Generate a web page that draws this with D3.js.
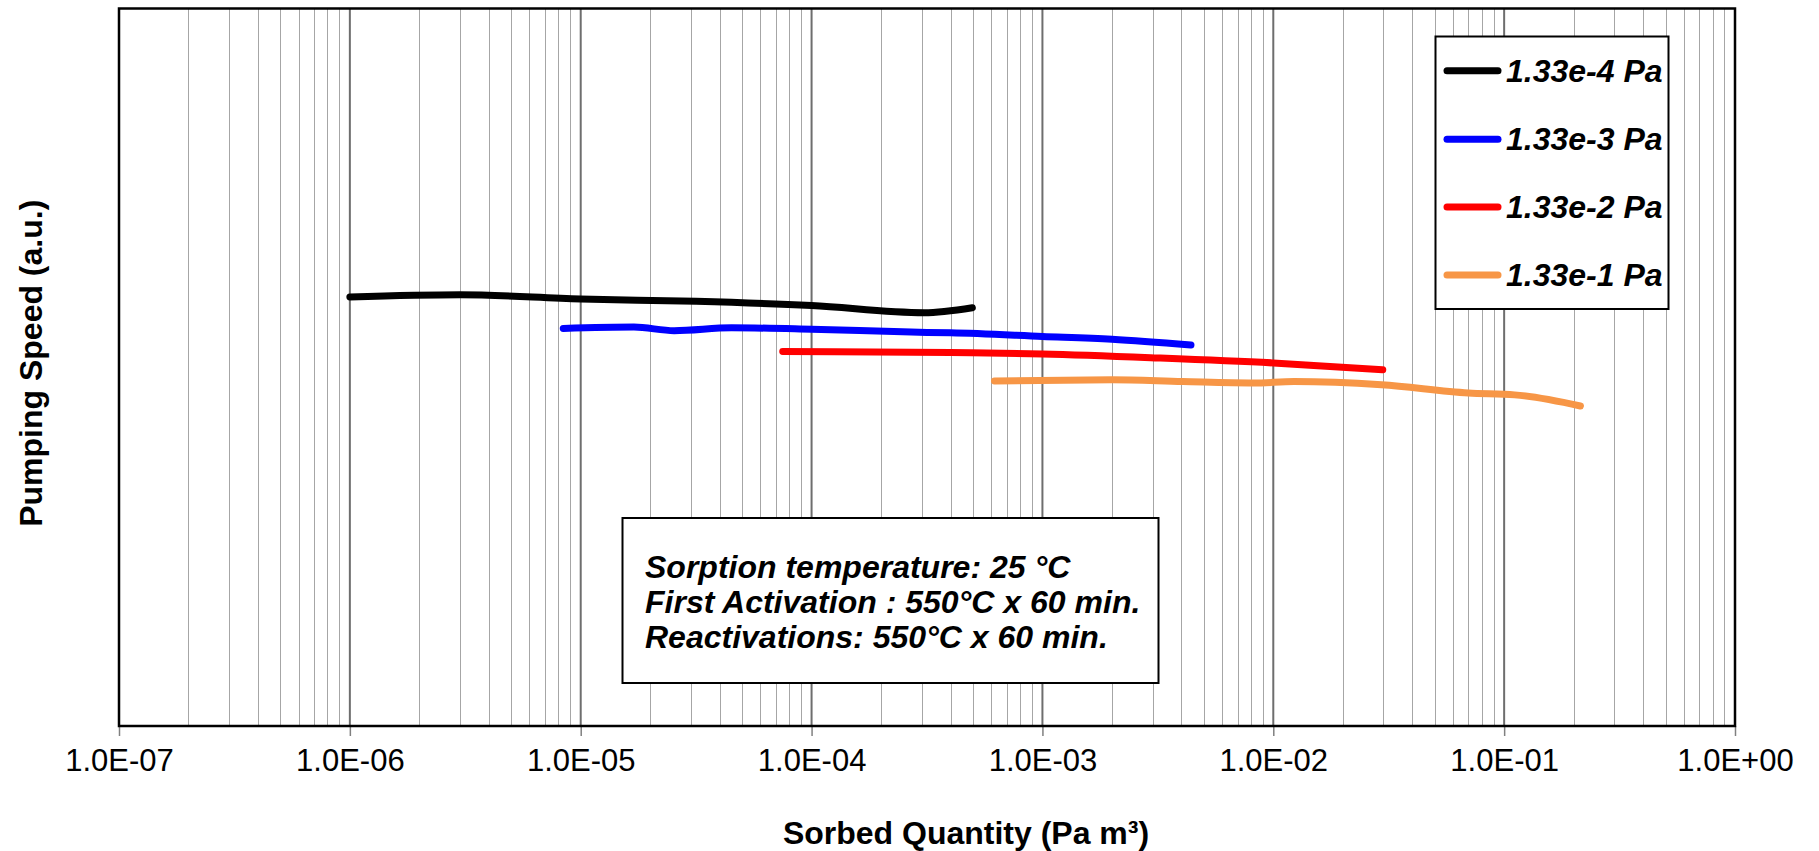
<!DOCTYPE html>
<html><head><meta charset="utf-8">
<script src="https://cdn.jsdelivr.net/npm/d3@7"></script>
<style>html,body{margin:0;padding:0;background:#fff;}svg{display:block;font-family:"Liberation Sans",Arial,sans-serif;}</style>
</head><body>
<svg id="chart" width="1819" height="851"></svg>
<script>
// ---- data (x: sorbed quantity Pa m3, y: pumping speed in arbitrary units 0..100) ----
const seriesNames = ["1.33e-4 Pa", "1.33e-3 Pa", "1.33e-2 Pa", "1.33e-1 Pa"];
const seriesColors = ["#000000", "#0000FF", "#FF0000", "#F79646"];
const s1x = [1.0e-6, 3.0e-6, 1.0e-5, 3.16e-5, 1.0e-4, 3.07e-4, 4.97e-4];
const s1y = [59.8, 60.1, 59.5, 59.2, 58.6, 57.6, 58.3];
const s2x = [8.4e-6, 1.7e-5, 2.54e-5, 4.5e-5, 1.0e-4, 2.7e-4, 4.0e-4, 1.0e-3, 2.0e-3, 4.4e-3];
const s2y = [55.4, 55.6, 55.1, 55.5, 55.3, 54.9, 54.8, 54.3, 53.9, 53.1];
const s3x = [7.5e-5, 4.0e-4, 1.0e-3, 3.16e-3, 1.0e-2, 2.98e-2];
const s3y = [52.2, 52.05, 51.85, 51.3, 50.6, 49.65];
const s4x = [6.2e-4, 2.0e-3, 4.05e-3, 8.2e-3, 1.23e-2, 2.94e-2, 7.0e-2, 0.111, 0.214];
const s4y = [48.1, 48.25, 48.0, 47.8, 48.0, 47.55, 46.4, 46.15, 44.6];
const xTickValues = [1e-7, 1e-6, 1e-5, 1e-4, 1e-3, 1e-2, 1e-1, 1e0];
const xTickLabels = ["1.0E-07", "1.0E-06", "1.0E-05", "1.0E-04", "1.0E-03", "1.0E-02", "1.0E-01", "1.0E+00"];
const xTitle = "Sorbed Quantity (Pa m³)";
const yTitle = "Pumping Speed (a.u.)";
const noteLines = ["Sorption temperature: 25 °C", "First Activation : 550°C x 60 min.", "Reactivations: 550°C x 60 min."];

const seriesX = [s1x, s2x, s3x, s4x];
const seriesY = [s1y, s2y, s3y, s4y];

// ---- layout ----
const L = 119, R = 1735, T = 8.5, B = 726;
const svg = d3.select("#chart");
const x = d3.scaleLog().domain([1e-7, 1]).range([L, R]);
const y = d3.scaleLinear().domain([0, 100]).range([B, T]);

// grid: minor lines
const minor = [];
for (let e = -7; e < 0; e++) for (let k = 2; k <= 9; k++) minor.push(k * Math.pow(10, e));
svg.append("g").selectAll("line").data(minor).join("line")
  .attr("x1", d => Math.round(x(d)) + 0.5).attr("x2", d => Math.round(x(d)) + 0.5)
  .attr("y1", T).attr("y2", B)
  .attr("stroke", "#a6a6a6").attr("stroke-width", 1);
// grid: major lines
svg.append("g").selectAll("line").data(xTickValues.slice(1, -1)).join("line")
  .attr("x1", d => x(d)).attr("x2", d => x(d))
  .attr("y1", T).attr("y2", B)
  .attr("stroke", "#6e6e6e").attr("stroke-width", 2);

// x axis
const xAxis = d3.axisBottom(x).tickValues(xTickValues)
  .tickFormat((d, i) => xTickLabels[i]).tickSize(10).tickPadding(13);
const gx = svg.append("g").attr("transform", `translate(0,${B})`).call(xAxis);
gx.select(".domain").remove();
gx.selectAll(".tick line").attr("stroke", "#808080").attr("stroke-width", 1.5);
gx.selectAll(".tick text").attr("fill", "#000").style("font-size", "31px")
  .style("font-family", "'Liberation Sans', Arial, sans-serif");

// plot border
svg.append("rect").attr("x", L).attr("y", T).attr("width", R - L).attr("height", B - T)
  .attr("fill", "none").attr("stroke", "#000").attr("stroke-width", 2.5);

// series lines
const line = d3.line().x(d => x(d[0])).y(d => y(d[1])).curve(d3.curveMonotoneX);
seriesNames.forEach((n, i) => {
  const pts = seriesX[i].map((v, j) => [v, seriesY[i][j]]);
  svg.append("path").datum(pts).attr("d", line)
    .attr("fill", "none").attr("stroke", seriesColors[i]).attr("stroke-width", 7)
    .attr("stroke-linecap", "round").attr("stroke-linejoin", "round");
});

// legend
const lg = svg.append("g");
lg.append("rect").attr("x", 1435.5).attr("y", 36.5).attr("width", 233).attr("height", 272.5)
  .attr("fill", "#fff").attr("stroke", "#000").attr("stroke-width", 2);
const rowY = [70.7, 139.3, 207, 275];
seriesNames.forEach((n, i) => {
  lg.append("line").attr("x1", 1447).attr("x2", 1498).attr("y1", rowY[i]).attr("y2", rowY[i])
    .attr("stroke", seriesColors[i]).attr("stroke-width", 7).attr("stroke-linecap", "round");
  lg.append("text").attr("x", 1506).attr("y", rowY[i] + 11)
    .style("font-size", "32px").style("font-weight", "bold").style("font-style", "italic")
    .text(n);
});

// note box
const nb = svg.append("g");
nb.append("rect").attr("x", 622.5).attr("y", 518).attr("width", 536).attr("height", 165)
  .attr("fill", "#fff").attr("stroke", "#000").attr("stroke-width", 2);
noteLines.forEach((t, i) => {
  nb.append("text").attr("x", 645).attr("y", 578 + i * 35)
    .style("font-size", "32px").style("font-weight", "bold").style("font-style", "italic")
    .text(t);
});

// axis titles
svg.append("text").attr("x", 966).attr("y", 844).attr("text-anchor", "middle")
  .style("font-size", "32px").style("font-weight", "bold").text(xTitle);
svg.append("text").attr("transform", `translate(42,${(T + B) / 2 - 4}) rotate(-90)`)
  .attr("text-anchor", "middle")
  .style("font-size", "32px").style("font-weight", "bold").text(yTitle);
</script>
</body></html>
